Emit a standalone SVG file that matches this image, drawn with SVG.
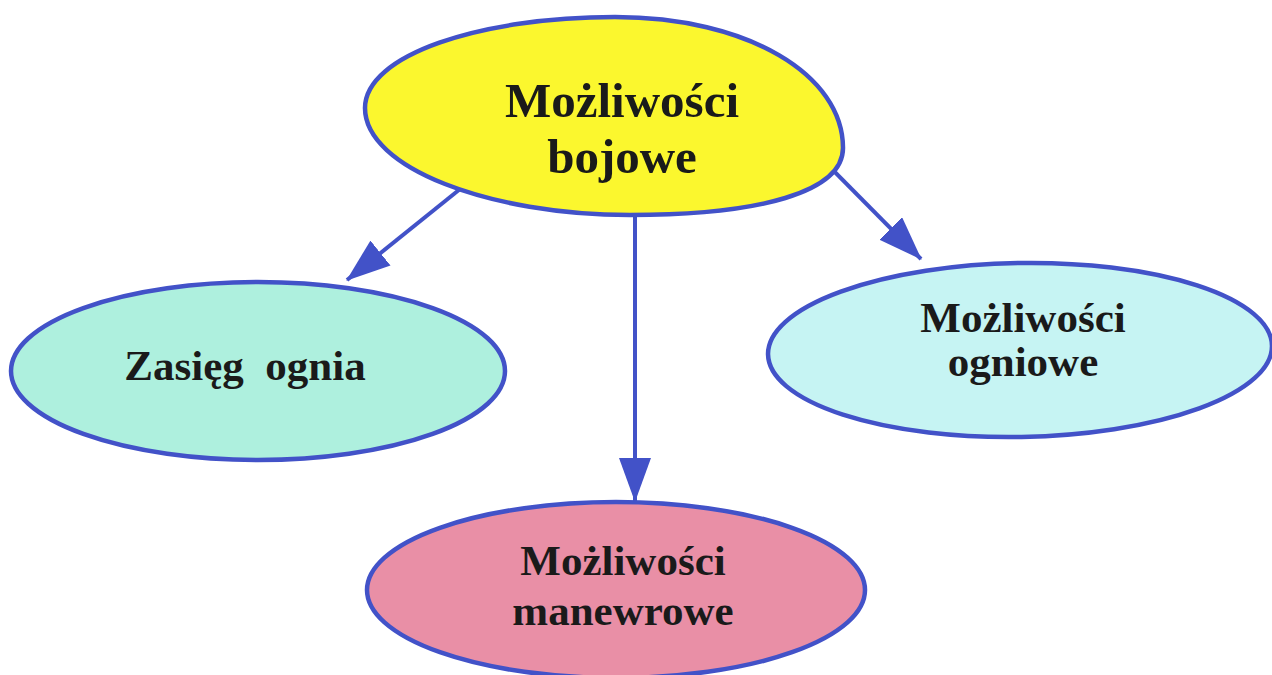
<svg xmlns="http://www.w3.org/2000/svg" width="1272" height="675" viewBox="0 0 1272 675">
  <style>
    .node { stroke: #4252c8; stroke-width: 4.5; }
    .label { font-family: "Liberation Serif", "Times New Roman", serif; font-weight: bold; fill: #1a1a1a; text-anchor: middle; white-space: pre; }
    .edge { stroke: #4252c8; stroke-width: 4; fill: none; marker-end: url(#arrow); }
  </style>
  <defs>
    <marker id="arrow" markerUnits="userSpaceOnUse" viewBox="0 0 44 32" markerWidth="44" markerHeight="32" refX="43" refY="16" orient="auto">
      <path d="M0,0 L44,16 L0,32 Z" fill="#4252c8"/>
    </marker>
  </defs>

  <rect width="1272" height="675" fill="#ffffff"/>

  <!-- connectors (drawn first; node fills cover their start) -->
  <g id="connectors">
    <line class="edge" x1="480" y1="173" x2="347" y2="280"/>
    <line class="edge" x1="635" y1="190" x2="635" y2="501"/>
    <line class="edge" x1="812" y1="149" x2="921" y2="259"/>
  </g>

  <!-- root node: lopsided oval, slightly lower on the right -->
  <g id="node-bojowe">
    <path class="node" fill="#fbf72e" d="M615,17 C748,17 843,75 843,148 C843,192 760,215 630,215 C490,215 365,168 365,108 C365,55 480,17 615,17 Z"/>
    <text class="label" x="622" y="117" font-size="49">Możliwości</text>
    <text class="label" x="622" y="173" font-size="49">bojowe</text>
  </g>

  <!-- child nodes -->
  <g id="node-zasieg">
    <ellipse class="node" cx="258" cy="371" rx="247" ry="89" fill="#aef0de"/>
    <text class="label" x="245" y="380" font-size="43">Zasięg  ognia</text>
  </g>

  <g id="node-ogniowe">
    <ellipse class="node" cx="1020" cy="350" rx="252" ry="87" fill="#c6f4f3" transform="rotate(-1 1020 350)"/>
    <text class="label" x="1023" y="332" font-size="43">Możliwości</text>
    <text class="label" x="1023" y="376" font-size="43">ogniowe</text>
  </g>

  <g id="node-manewrowe">
    <ellipse class="node" cx="616" cy="590" rx="249" ry="88" fill="#e98fa6"/>
    <text class="label" x="623" y="575" font-size="43">Możliwości</text>
    <text class="label" x="623" y="625" font-size="43">manewrowe</text>
  </g>
</svg>
